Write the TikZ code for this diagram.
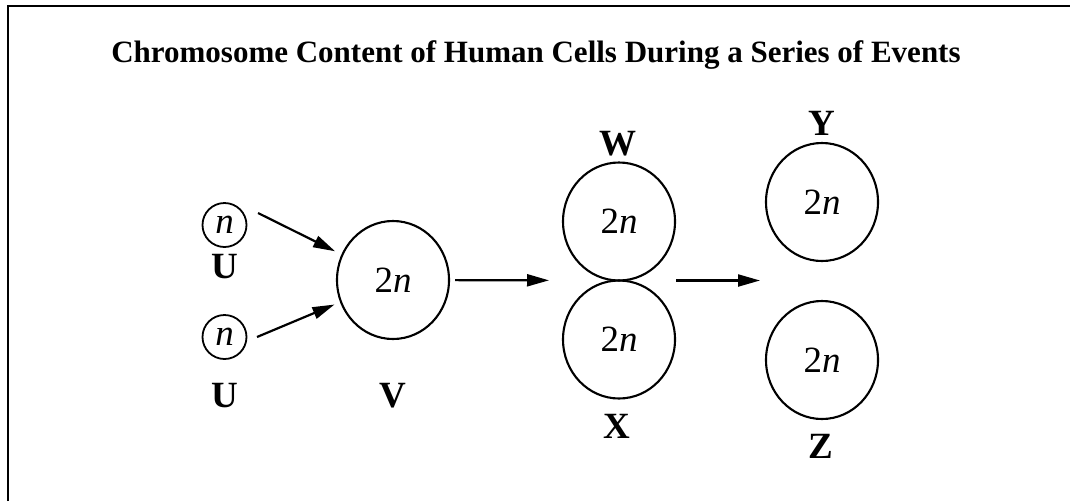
\documentclass[tikz,border=0pt]{standalone}
\usepackage{fontspec}
\setmainfont{Liberation Serif}
\usetikzlibrary{shapes.geometric,arrows.meta,calc}
\tikzset{
  cell/.style={draw, ellipse, line width=2.1pt, minimum width=112pt, minimum height=118pt, inner sep=0pt, font=\fontsize{37}{40}\selectfont},
  gamete/.style={draw, circle, line width=1.8pt, minimum size=44pt, inner sep=0pt, font=\fontsize{37}{40}\selectfont\itshape},
  lbl/.style={anchor=base, font=\fontsize{37}{40}\selectfont\bfseries},
  arr/.style={line width=2.2pt, -{Triangle[length=22pt,width=12pt]}},
  frame/.style={line width=2pt}
}
\begin{document}
\begin{tikzpicture}[x=1pt,y=-1pt]
\useasboundingbox (0,0) rectangle (1070,501);
\draw[frame] (8,501) -- (8,6) -- (1070,6);
\node[anchor=base, font=\fontsize{31}{36}\selectfont\bfseries] (title) at (536,62) {Chromosome Content of Human Cells During a Series of Events};
\node[gamete] (u1) at (224.5,225) {n};
\node[gamete] (u2) at (224.5,337) {n};
\node[cell] (v) at (393,280) {2\textit{n}};
\node[cell] (w) at (619,221.5) {2\textit{n}};
\node[cell] (x) at (619,339.5) {2\textit{n}};
\node[cell] (y) at (822,202) {2\textit{n}};
\node[cell] (z) at (822,360) {2\textit{n}};
\node[lbl] (lu1) at (224.5,278) {U};
\node[lbl] (lu2) at (224.5,407) {U};
\node[lbl] (lv) at (393,407) {V};
\node[lbl] (lw) at (618,155) {W};
\node[lbl] (lx) at (617,438) {X};
\node[lbl] (ly) at (822,135) {Y};
\node[lbl] (lz) at (821,458) {Z};
\coordinate (s1) at ($(u1)+(33.5,-12)$);
\coordinate (s2) at ($(u2)+(32.5,0)$);
\coordinate (wx) at ($(w.south)!0.5!(x.north)$);
\coordinate (yz) at ($(y)!0.5!(z)$);
\draw[arr, shorten >=7pt] (s1) -- (v);
\draw[arr, shorten >=6pt] (s2) -- (v);
\draw[arr, shorten <=5pt, shorten >=70pt] (v) -- (wx);
\draw[arr, shorten <=57pt, shorten >=62pt] (wx) -- (wx -| yz);
\end{tikzpicture}
\end{document}
